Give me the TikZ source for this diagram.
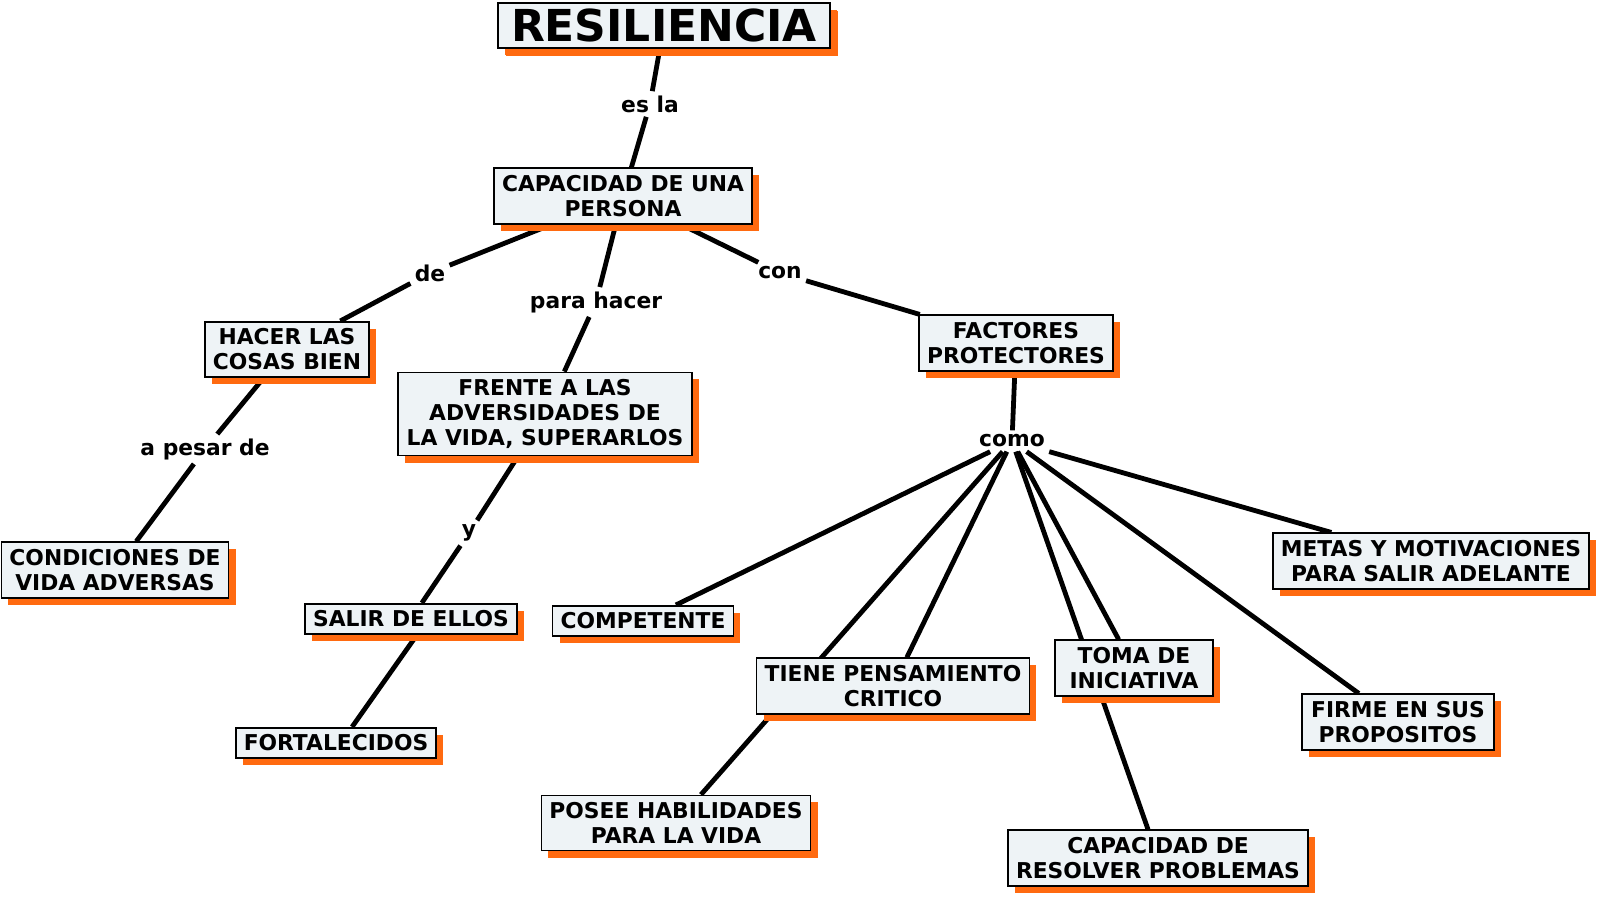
\documentclass[tikz,border=0pt]{standalone}
\usepackage{fontspec}
\setmainfont{DejaVu Sans}
\usetikzlibrary{shadows,backgrounds}
\definecolor{boxfill}{HTML}{EEF3F6}
\definecolor{shadoworange}{HTML}{FF6A10}
\tikzset{
  concept/.style={draw=black, line width=0.8pt, fill=boxfill, align=center,
    inner xsep=4pt, inner ysep=3.5pt,
    font=\fontsize{10.9}{12.5}\selectfont\bfseries,
    drop shadow={shadow xshift=3.5pt, shadow yshift=-3.5pt, fill=shadoworange, opacity=1}},
  linkword/.style={inner sep=2pt, font=\fontsize{10.9}{12.5}\selectfont\bfseries},
  link/.style={line width=2.4pt, black}
}
\begin{document}
\begin{tikzpicture}[x=0.5pt, y=-0.5pt]
\useasboundingbox (0,0) rectangle (1600,897);
% Concepts
\node[concept, font=\fontsize{22}{26}\selectfont\bfseries, inner ysep=3pt, minimum width=166pt,
  drop shadow={shadow xshift=4pt, shadow yshift=-4pt, fill=shadoworange, opacity=1}] (titulo) at (664,25.5) {RESILIENCIA};
\node[concept, minimum width=127.5pt] (capacidad) at (623,196) {CAPACIDAD DE UNA\\PERSONA};
\node[concept, minimum width=80.6pt] (hacer) at (287,349.5) {HACER LAS\\COSAS BIEN};
\node[concept, minimum width=147pt] (frente) at (545,414) {FRENTE A LAS\\ADVERSIDADES DE\\LA VIDA, SUPERARLOS};
\node[concept, minimum width=93.4pt] (factores) at (1016,343) {FACTORES\\PROTECTORES};
\node[concept, minimum width=113pt] (condiciones) at (115,570) {CONDICIONES DE\\VIDA ADVERSAS};
\node[concept, minimum width=104.6pt] (salir) at (411,619) {SALIR DE ELLOS};
\node[concept, minimum width=99.5pt] (fortalecidos) at (336,743) {FORTALECIDOS};
\node[concept, minimum width=86.7pt] (competente) at (643,621) {COMPETENTE};
\node[concept, minimum width=135pt] (pensamiento) at (893,686) {TIENE PENSAMIENTO\\CRITICO};
\node[concept, minimum width=79pt] (iniciativa) at (1134,668) {TOMA DE\\INICIATIVA};
\node[concept, minimum width=157.7pt] (metas) at (1431,561) {METAS Y MOTIVACIONES\\PARA SALIR ADELANTE};
\node[concept, minimum width=96pt] (firme) at (1398,722) {FIRME EN SUS\\PROPOSITOS};
\node[concept, minimum width=133pt] (posee) at (676,823) {POSEE HABILIDADES\\PARA LA VIDA};
\node[concept, minimum width=146.4pt] (resolver) at (1158,858) {CAPACIDAD DE\\RESOLVER PROBLEMAS};
% Linking words
\node[linkword] (esla) at (650,104) {es la};
\node[linkword] (de) at (430,273) {de};
\node[linkword] (parahacer) at (596,302) {para hacer};
\node[linkword] (con) at (780,273) {con};
\node[linkword] (apesar) at (205,449) {a pesar de};
\node[linkword] (y) at (469,533) {y};
\node[linkword] (como) at (1012,441) {como};
% Connectors (behind the boxes)
\begin{pgfonlayer}{background}
\draw[link] (titulo) -- (esla);
\draw[link] (esla) -- (capacidad);
\draw[link] (capacidad) -- (de);
\draw[link] (de) -- (hacer);
\draw[link] (capacidad) -- (parahacer);
\draw[link] (parahacer) -- (frente);
\draw[link] (capacidad) -- (con);
\draw[link] (con) -- (factores);
\draw[link] (hacer) -- (apesar);
\draw[link] (apesar) -- (condiciones);
\draw[link] (frente) -- (y);
\draw[link] (y) -- (salir);
\draw[link] (salir.290) -- (fortalecidos.45);
\draw[link] (factores) -- (como);
\draw[link] (como) -- (competente);
\draw[link] (como) -- (pensamiento);
\draw[link] (como) -- (posee);
\draw[link] (como) -- (iniciativa);
\draw[link] (como) -- (resolver);
\draw[link] (como) -- (firme);
\draw[link] (como) -- (metas);
\end{pgfonlayer}
\end{tikzpicture}
\end{document}
